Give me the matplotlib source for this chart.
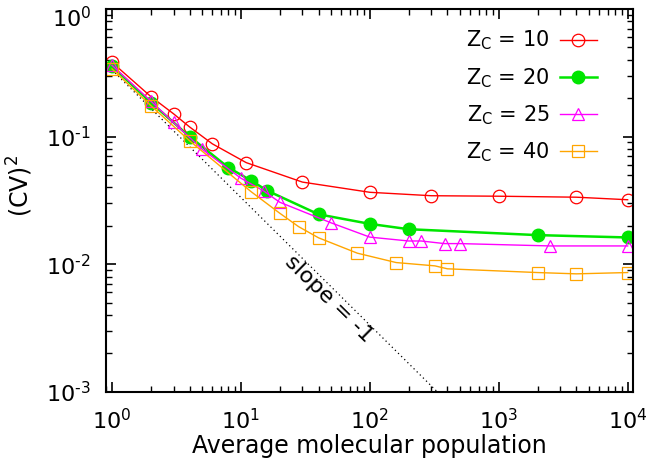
import numpy as np
import matplotlib
matplotlib.use('Agg')
import matplotlib.pyplot as plt
from matplotlib.ticker import FixedLocator, FixedFormatter
import matplotlib.transforms as mtransforms

# values
n_10 = [1, 2, 3, 4, 6, 11, 30, 100, 300, 1000, 4000, 10000]
cv_10 = [0.382, 0.206, 0.151, 0.119, 0.0878, 0.0625, 0.044, 0.0366, 0.0344, 0.0341, 0.0335, 0.032]

n_20 = [1, 2, 4, 8, 12, 16, 40, 100, 200, 2000, 10000]
cv_20 = [0.356, 0.185, 0.100, 0.0572, 0.0452, 0.0377, 0.0246, 0.0207, 0.0188, 0.0169, 0.0162]

n_25 = [1, 2, 3, 5, 10, 15, 20, 50, 100, 200, 250, 380, 500, 2500, 10000]
cv_25 = [0.362, 0.19, 0.129, 0.0797, 0.0472, 0.0375, 0.0306, 0.0211, 0.0163, 0.0152, 0.0152,
         0.0145, 0.0145, 0.0139, 0.0139]

n_40 = [1, 2, 4, 12, 20, 28, 40, 80, 160, 320, 400, 2000, 4000, 10000]
cv_40 = [0.339, 0.175, 0.0927, 0.037, 0.0251, 0.0197, 0.0161, 0.0122, 0.0103, 0.0097, 0.0092,
         0.0086, 0.0084, 0.0086]

slope_n = [1, 1e4]
slope_c = 1 / 3.0

x_ticks = [1, 10, 100, 1000, 10000]
x_labels = ['10$^{0}$', '10$^{1}$', '10$^{2}$', '10$^{3}$', '10$^{4}$']
y_ticks = [1e-3, 1e-2, 1e-1, 1]
# hyphen (U+2010) instead of the long mathtext minus
y_labels = ['10$^{\u20103}$', '10$^{\u20102}$', '10$^{\u20101}$', '10$^{0}$']

plt.rcParams['font.family'] = ['DejaVu Sans']
plt.rcParams['font.size'] = 15
plt.rcParams['mathtext.default'] = 'regular'

fig = plt.figure(figsize=(6.59, 4.62), dpi=100)
ax = fig.add_axes([0.161, 0.152, 0.7995, 0.8285])

ax.plot(slope_n, [slope_c / n for n in slope_n], color='black', ls=(0, (1, 2.5)), lw=0.9)

ax.plot(n_10, cv_10, color='#ff0000', lw=1.0, marker='o', ms=9, mfc='none', mew=0.9,
        label=r'Z$_\mathregular{C}$ = 10')
ax.plot(n_20, cv_20, color='#00e600', lw=1.8, marker='o', ms=9,
        label=r'Z$_\mathregular{C}$ = 20')
ax.plot(n_25, cv_25, color='#ff00ff', lw=1.0, marker='^', ms=9, mfc='none', mew=0.9,
        label=r'Z$_\mathregular{C}$ = 25')
ax.plot(n_40, cv_40, color='#ffa500', lw=1.0, marker='s', ms=9, mfc='none', mew=0.9,
        label=r'Z$_\mathregular{C}$ = 40')

ax.set_xscale('log')
ax.set_yscale('log')
ax.set_xlim(0.9, 11000)
ax.set_ylim(1e-3, 1)
ax.xaxis.set_major_locator(FixedLocator(x_ticks))
ax.xaxis.set_major_formatter(FixedFormatter(x_labels))
ax.yaxis.set_major_locator(FixedLocator(y_ticks))
ax.yaxis.set_major_formatter(FixedFormatter(y_labels))

ax.text(48, 0.0053, 'slope = -1', rotation=-44.5, ha='center', va='center', fontsize=16)

ax.set_xlabel('Average molecular population', fontsize=17, labelpad=0)
ax.set_ylabel(r'(CV)$^2$', fontsize=17)
ax.yaxis.set_label_coords(-0.135, 0.538)

ax.tick_params(which='both', direction='in', top=True, right=True, labelsize=16)
ax.tick_params(which='major', length=7, width=1.2)
ax.tick_params(axis='x', which='major', pad=12)
ax.tick_params(axis='y', which='major', pad=11)
ax.tick_params(which='minor', length=4, width=1.0)
for sp in ax.spines.values():
    sp.set_linewidth(1.5)

# push the top y label down so it stays inside the figure
top_lab = ax.yaxis.get_major_ticks()[-1].label1
top_lab.set_transform(top_lab.get_transform() +
                      mtransforms.ScaledTranslation(0, -8 / 100, fig.dpi_scale_trans))

ax.legend(loc='upper right', bbox_to_anchor=(0.948, 0.970), borderaxespad=0,
          frameon=False, markerfirst=False, handlelength=1.8, handletextpad=0.5,
          labelspacing=0.65, fontsize=15)

fig.savefig('out.png', dpi=100)
